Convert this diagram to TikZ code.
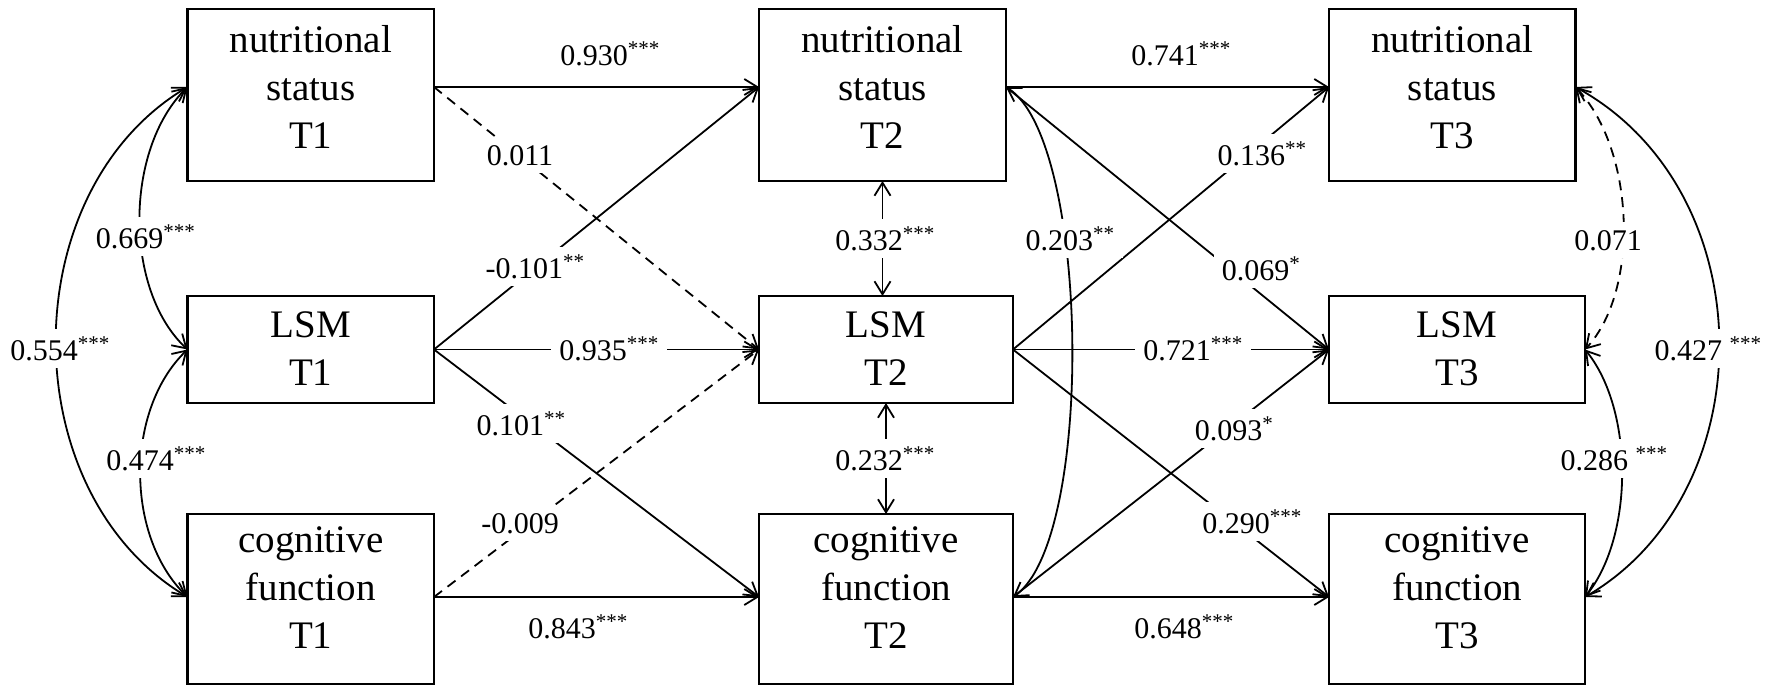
\documentclass[tikz,border=0pt]{standalone}
\usepackage{fontspec}
\setmainfont{Liberation Serif}
\usetikzlibrary{arrows.meta}
\newcommand\pstar[1]{\textsuperscript{#1}}
\begin{document}
\begin{tikzpicture}[x=1pt,y=-1pt,
  Bb/.tip={Straight Barb[length=13pt,width=16pt]},
  box/.style 2 args={draw, line width=2.6pt, inner sep=0pt, outer sep=0pt,
    anchor=north west, minimum width=#1, minimum height=#2},
  txt/.style={font=\fontsize{39}{48}\selectfont, align=center, inner sep=0pt},
  conn/.style={line width=1.8pt},
  dash/.style={},
  dsh/.style={dash pattern=on 10pt off 7pt},
  lab/.style={font=\fontsize{30}{36}\selectfont, fill=white, inner xsep=8pt, inner ysep=8pt, anchor=base},
  plain/.style={font=\fontsize{30}{36}\selectfont, inner sep=2pt, anchor=base}
]
\useasboundingbox (0,0) rectangle (1771,694);

% boxes
\node[box={246.5pt}{172pt}] (ns1)  at (187.5,9)   {};
\node[box={246.5pt}{107pt}] (lsm1) at (187.5,296) {};
\node[box={246.5pt}{170pt}] (cog1) at (187.5,514) {};
\node[box={247pt}{172pt}]   (ns2)  at (759,9)     {};
\node[box={254pt}{107pt}]   (lsm2) at (759,296)   {};
\node[box={254pt}{170pt}]   (cog2) at (759,514)   {};
\node[box={246.5pt}{172pt}] (ns3)  at (1329,9)    {};
\node[box={256pt}{107pt}]   (lsm3) at (1329,296)  {};
\node[box={256pt}{170pt}]   (cog3) at (1329,514)  {};

% box texts
\node[txt] (ns1t)  at ([yshift=8.3pt]ns1.center)   {nutritional\\status\\T1};
\node[txt] (lsm1t) at ([yshift=0.7pt]lsm1.center)  {LSM\\T1};
\node[txt] (cog1t) at ([yshift=11.3pt]cog1.center) {cognitive\\function\\T1};
\node[txt] (ns2t)  at ([yshift=8.3pt]ns2.center)   {nutritional\\status\\T2};
\node[txt] (lsm2t) at ([yshift=0.7pt]lsm2.center)  {LSM\\T2};
\node[txt] (cog2t) at ([yshift=11.3pt]cog2.center) {cognitive\\function\\T2};
\node[txt] (ns3t)  at ([yshift=8.3pt]ns3.center)   {nutritional\\status\\T3};
\node[txt] (lsm3t) at ([yshift=0.7pt]lsm3.center)  {LSM\\T3};
\node[txt] (cog3t) at ([yshift=11.3pt]cog3.center) {cognitive\\function\\T3};

% T1 -> T2 paths
\draw[conn,-Bb] ([yshift=8pt]ns1.east) -- ([yshift=8pt]ns2.west);
\draw[conn,dsh,-Bb] ([yshift=8pt]ns1.east) -- (lsm2.west);
\draw[conn,-Bb] (lsm1.east) -- ([yshift=8pt]ns2.west);
\draw[conn,-Bb] (lsm1.east) -- (lsm2.west);
\draw[conn,-Bb] (lsm1.east) -- ([yshift=2pt]cog2.west);
\draw[conn,dsh,-Bb] ([yshift=2pt]cog1.east) -- (lsm2.west);
\draw[conn,-Bb] ([yshift=2pt]cog1.east) -- ([yshift=2pt]cog2.west);

% T2 -> T3 paths
\draw[conn,-Bb] ([yshift=8pt]ns2.east) -- ([yshift=8pt]ns3.west);
\draw[conn,-Bb] ([yshift=8pt]ns2.east) -- (lsm3.west);
\draw[conn,-Bb] (lsm2.east) -- ([yshift=8pt]ns3.west);
\draw[conn,-Bb] (lsm2.east) -- (lsm3.west);
\draw[conn,-Bb] (lsm2.east) -- ([yshift=2pt]cog3.west);
\draw[conn,-Bb] ([yshift=2pt]cog2.east) -- (lsm3.west);
\draw[conn,-Bb] ([yshift=2pt]cog2.east) -- ([yshift=2pt]cog3.west);

% T1 covariances
\draw[conn,Bb-Bb] ([yshift=8pt]ns1.west) .. controls (124,150) and (124,290) .. (lsm1.west);
\draw[conn,Bb-Bb] (lsm1.west) .. controls (125,410) and (125,536) .. ([yshift=2pt]cog1.west);
\draw[conn,Bb-Bb] ([yshift=8pt]ns1.west) .. controls (12.5,192) and (12.5,492) .. ([yshift=2pt]cog1.west);

% T2 covariances
\draw[conn,Bb-Bb] (ns2.south) -- (ns2.south |- lsm2.north);
\draw[conn,Bb-Bb] (lsm2.south) -- (cog2.north);
\draw[conn,Bb-Bb] ([yshift=8pt]ns2.east) .. controls (1090,140) and (1095,540) .. ([yshift=2pt]cog2.east);

% T3 covariances
\draw[conn,dsh,Bb-Bb] ([yshift=8pt]ns3.east) .. controls (1635,150) and (1640,290) .. (lsm3.east);
\draw[conn,Bb-Bb] (lsm3.east) .. controls (1634,410) and (1634,536) .. ([yshift=2pt]cog3.east);
\draw[conn,Bb-Bb] ([yshift=8pt]ns3.east) .. controls (1765,192) and (1765,492) .. ([yshift=2pt]cog3.east);

% labels
\node[plain] (l930) at (610,65)   {0.930\pstar{***}};
\node[plain] (l741) at (1181,65)  {0.741\pstar{***}};
\node[lab]   (l669) at (145.5,248) {0.669\pstar{***}};
\node[lab]   (l554) at (60,360)   {0.554\pstar{***}};
\node[lab]   (l011) at (520,165)  {0.011};
\node[lab]   (lm101) at (535,278) {-0.101\pstar{**}};
\node[lab]   (l332) at (885,250)  {0.332\pstar{***}};
\node[lab]   (l203) at (1070,250) {0.203\pstar{**}};
\node[lab]   (l136) at (1262,165) {0.136\pstar{**}};
\node[lab]   (l069) at (1261,280) {0.069\pstar{*}};
\node[lab]   (l071) at (1608,250) {0.071};
\node[lab]   (l935) at (609,360)  {0.935\pstar{***}};
\node[lab]   (l721) at (1193,360) {0.721\pstar{***}};
\node[lab]   (l427) at (1708,360) {0.427 \pstar{***}};
\node[lab]   (l101) at (521,435)  {0.101\pstar{**}};
\node[lab]   (l474) at (156,470)  {0.474\pstar{***}};
\node[lab]   (l232) at (885,470)  {0.232\pstar{***}};
\node[lab]   (l093) at (1234,440) {0.093\pstar{*}};
\node[lab]   (l286) at (1614,470) {0.286 \pstar{***}};
\node[lab]   (lm009) at (520,533) {-0.009};
\node[lab]   (l290) at (1252,533) {0.290\pstar{***}};
\node[plain] (l843) at (578,638)  {0.843\pstar{***}};
\node[plain] (l648) at (1184,638) {0.648\pstar{***}};
\end{tikzpicture}
\end{document}
